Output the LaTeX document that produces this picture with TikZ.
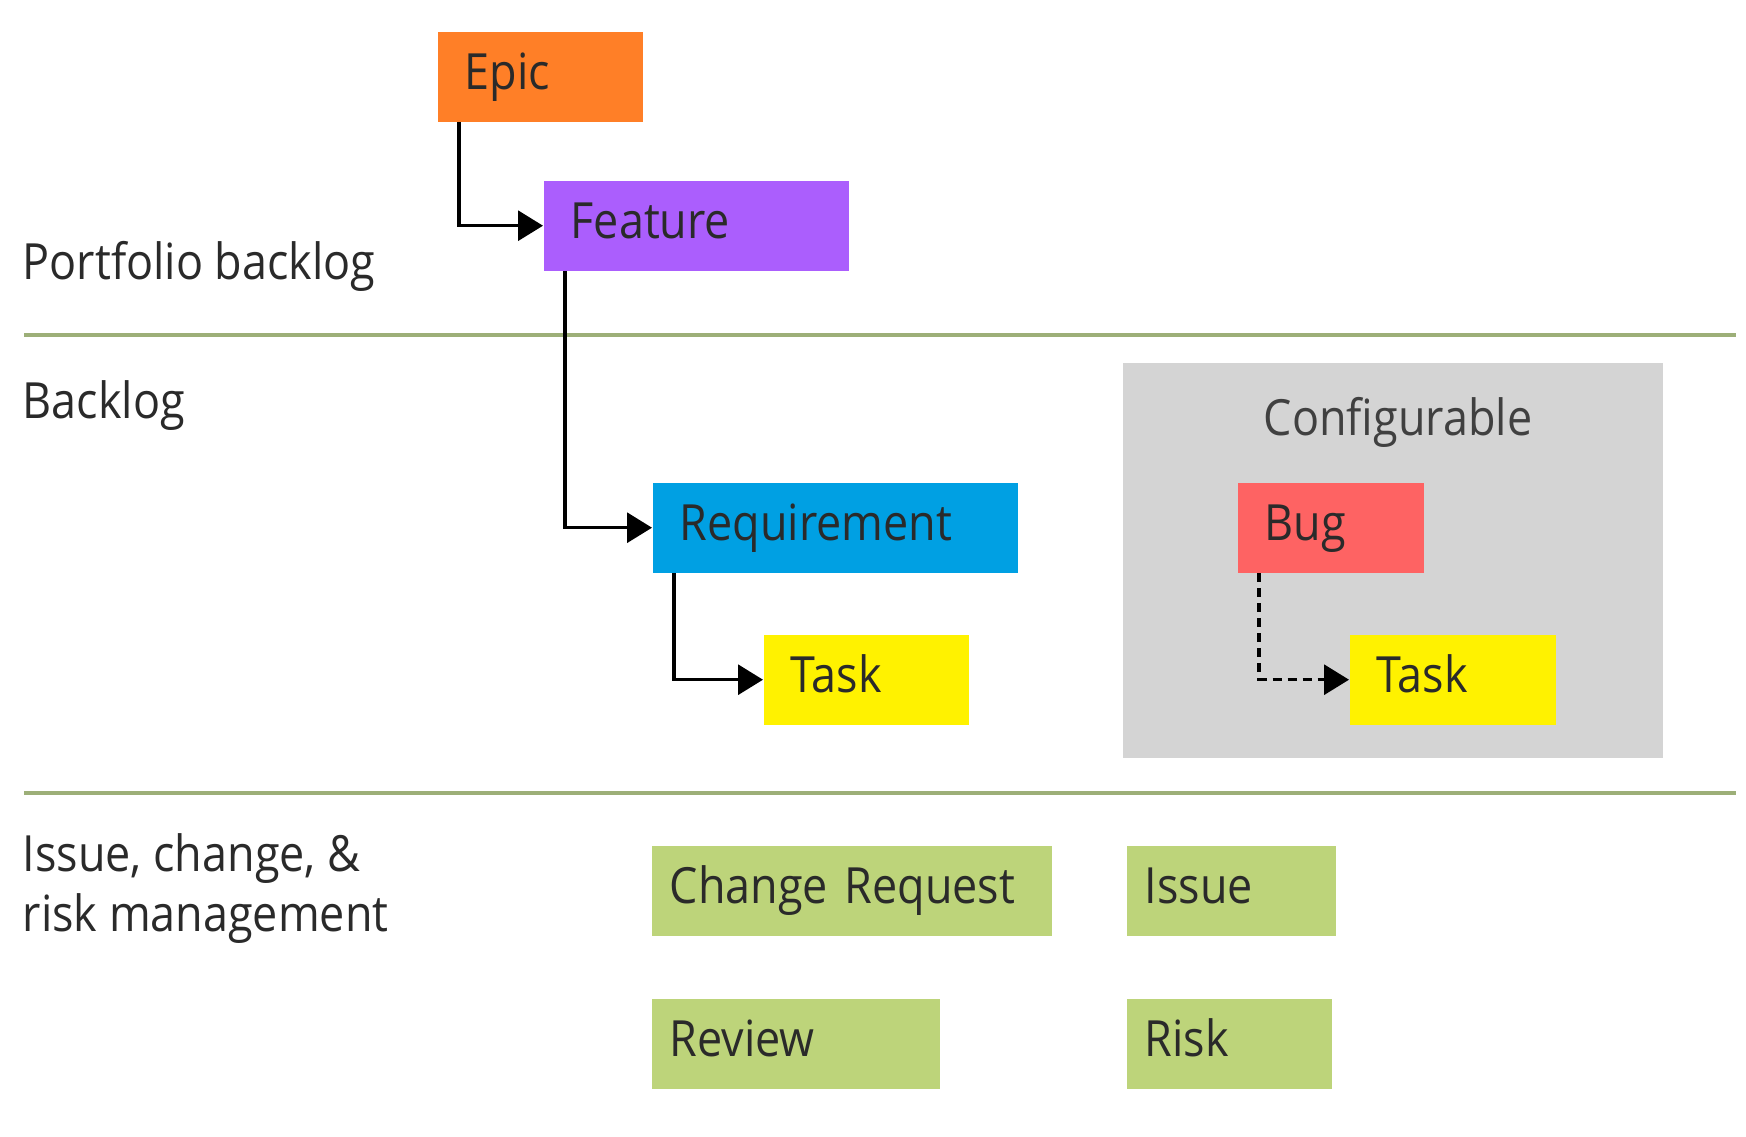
\documentclass[tikz,border=0pt]{standalone}
\usepackage{fontspec}
\setmainfont[FakeStretch=0.9]{Open Sans}
\usepackage{xcolor}
\usepackage{tikz}
\usetikzlibrary{arrows.meta,positioning}

\definecolor{epicorange}{HTML}{FF7F27}
\definecolor{featurepurple}{HTML}{AB5EFD}
\definecolor{reqblue}{HTML}{00A0E3}
\definecolor{taskyellow}{HTML}{FFF200}
\definecolor{bugred}{HTML}{FE6363}
\definecolor{itemgreen}{HTML}{BDD47A}
\definecolor{configgray}{HTML}{D4D4D4}
\definecolor{sepgreen}{HTML}{9DAF78}
\definecolor{textgray}{HTML}{2A2A2A}

\tikzset{
  itembox/.style={rectangle, anchor=north west, inner xsep=0.27cm, inner ysep=0pt,
    minimum height=0.9cm, text height=1.33ex, text depth=0pt, align=left,
    text=textgray, font=\fontsize{14.2}{17}\selectfont},
  greenbox/.style={itembox, fill=itemgreen, inner xsep=0.18cm},
  lanelabel/.style={anchor=base west, inner sep=0pt, align=left,
    text=textgray, font=\fontsize{14.2}{17}\selectfont},
  link/.style={line width=0.9pt, -{Triangle[length=0.25cm, width=0.3cm]}},
  optlink/.style={link, dash pattern=on 0.09cm off 0.06cm},
  sepline/.style={line width=1.1pt, sepgreen}
}

\begin{document}
\begin{tikzpicture}[>=Stealth]
\useasboundingbox (0,0) rectangle (17.46,11.36);

%% === Lane labels and separators ===
\node[lanelabel] (portfolio) at (0.22, 8.57) {Portfolio backlog};
\draw[sepline] (0.24, 8.01) -- (17.36, 8.01);
\node[lanelabel] (backlog) at (0.22, 7.18) {Backlog};
\draw[sepline] (0.24, 3.43) -- (17.36, 3.43);
\node[lanelabel] (issues) at (0.22, 2.05) {Issue, change, \&\\risk management};

%% === Configurable area ===
\node[anchor=north west, fill=configgray, minimum width=5.40cm, minimum height=3.95cm,
  inner sep=0pt] (config) at (11.22, 7.74) {};
\node[anchor=base, inner sep=0pt, text=black!75, font=\fontsize{14.2}{17}\selectfont]
  (configlabel) at (13.98, 7.01) {Configurable};

%% === Work item types ===
\node[itembox, fill=epicorange, text width=1.51cm] (epic) at (4.37, 11.05) {Epic};
\node[itembox, fill=featurepurple, text width=2.51cm] (feature) at (5.43, 9.56) {Feature};
\node[itembox, fill=reqblue, text width=3.11cm] (requirement) at (6.52, 6.54) {Requirement};
\node[itembox, fill=taskyellow, text width=1.51cm] (task) at (7.63, 5.02) {Task};
\node[itembox, fill=bugred, text width=1.32cm] (bug) at (12.37, 6.54) {Bug};
\node[itembox, fill=taskyellow, text width=1.52cm] (bugtask) at (13.49, 5.02) {Task};

% issue, change and risk items
\node[greenbox, text width=3.64cm] (change) at (6.51, 2.91) {Change Request};
\node[greenbox, text width=1.73cm] (issue) at (11.26, 2.91) {Issue};
\node[greenbox, text width=2.52cm] (review) at (6.51, 1.38) {Review};
\node[greenbox, text width=1.69cm] (risk) at (11.26, 1.38) {Risk};

%% === Parent/child links ===
\draw[link] ([xshift=0.22cm]epic.south west) |- (feature.west);
\draw[link] ([xshift=0.22cm]feature.south west) |- (requirement.west);
\draw[link] ([xshift=0.22cm]requirement.south west) |- (task.west);
\draw[optlink] ([xshift=0.22cm]bug.south west) |- (bugtask.west);

\end{tikzpicture}
\end{document}
